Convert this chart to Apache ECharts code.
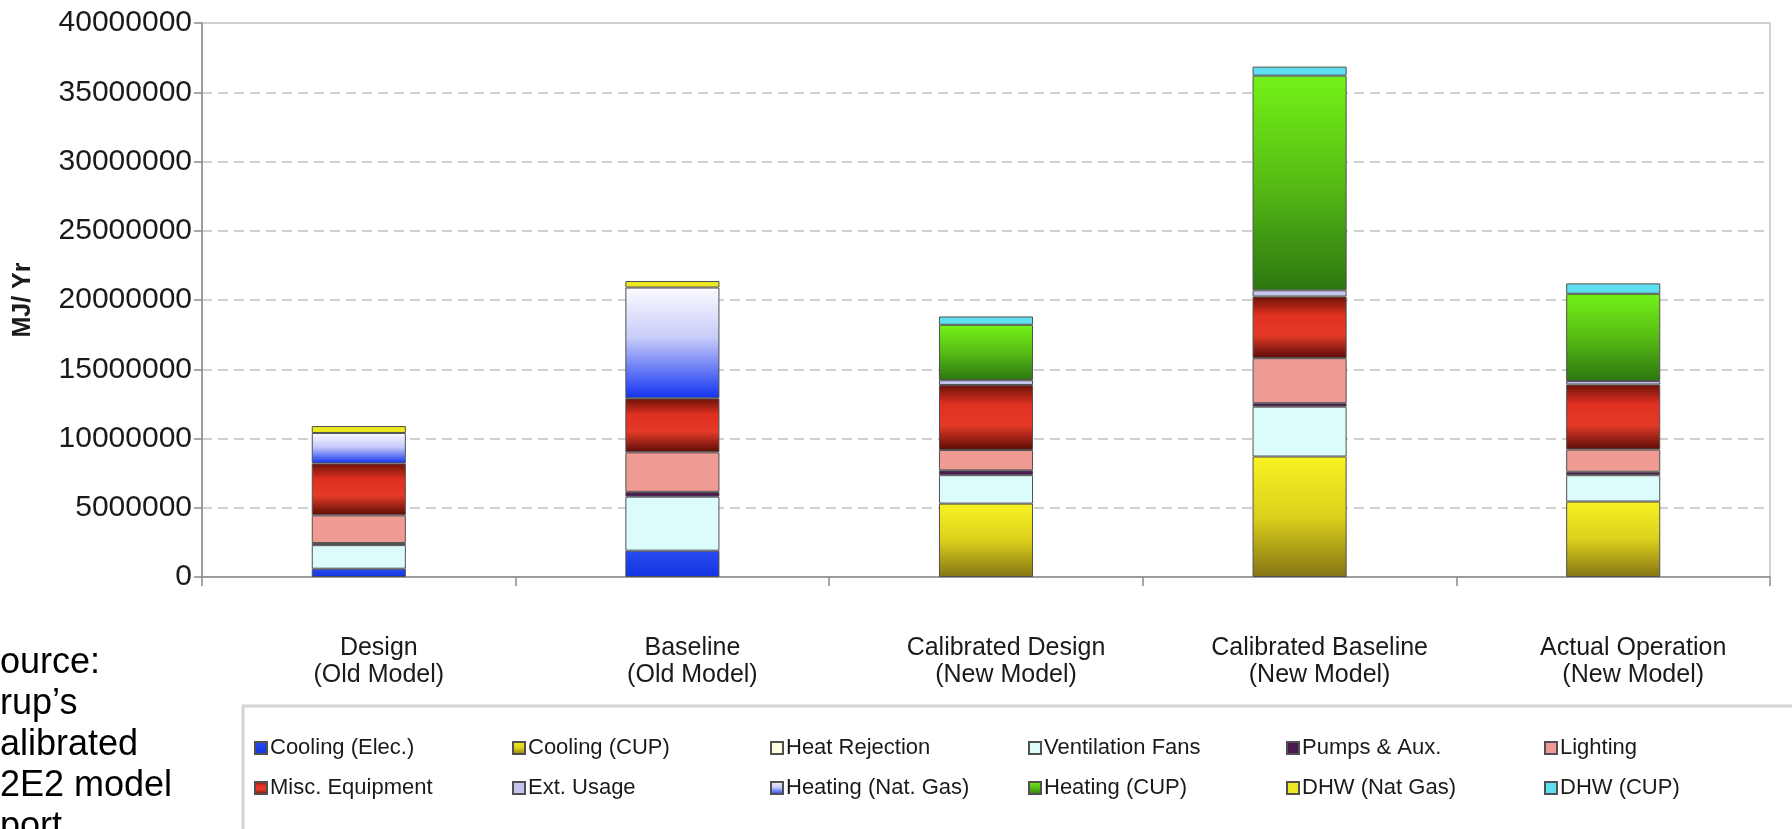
<!DOCTYPE html>
<html>
<head>
<meta charset="utf-8">
<script src="https://cdn.jsdelivr.net/npm/echarts@6/dist/echarts.min.js"></script>
<style>
html,body{margin:0;padding:0;background:#fff;}
#chart{width:1792px;height:829px;}
</style>
</head>
<body>
<div id="chart"></div>
<script>
// ---- data ----
const scenarios = ['Design', 'Baseline', 'Calibrated Design', 'Calibrated Baseline', 'Actual Operation'];
const models = ['(Old Model)', '(Old Model)', '(New Model)', '(New Model)', '(New Model)'];
const yTicks = [0, 5000000, 10000000, 15000000, 20000000, 25000000, 30000000, 35000000, 40000000];
const seriesNames = ['Cooling (Elec.)', 'Cooling (CUP)', 'Heat Rejection', 'Ventilation Fans', 'Pumps & Aux.', 'Lighting',
  'Misc. Equipment', 'Ext. Usage', 'Heating (Nat. Gas)', 'Heating (CUP)', 'DHW (Nat Gas)', 'DHW (CUP)'];
const coolingElec   = [600000, 1900000, null, null, null];
const coolingCUP    = [null, null, 5300000, 8700000, 5450000];
const heatRejection = [null, null, null, null, null];
const ventFans      = [1700000, 3900000, 2050000, 3600000, 1900000];
const pumpsAux      = [150000, 350000, 350000, 250000, 250000];
const lighting      = [2000000, 2850000, 1470000, 3250000, 1600000];
const miscEquip     = [3750000, 3900000, 4690000, 4450000, 4700000];
const extUsage      = [null, null, 350000, 450000, 250000];
const heatingNatGas = [2200000, 8000000, null, null, null];
const heatingCUP    = [null, null, 4000000, 15500000, 6300000];
const dhwNatGas     = [500000, 470000, null, null, null];
const dhwCUP        = [null, null, 600000, 650000, 750000];
const sourceLines = ['ource:', 'rup\u2019s', 'alibrated', '2E2 model', 'port'];

const seriesData = [coolingElec, coolingCUP, heatRejection, ventFans, pumpsAux, lighting,
  miscEquip, extUsage, heatingNatGas, heatingCUP, dhwNatGas, dhwCUP];

// ---- styles ----
const G = (stops) => new echarts.graphic.LinearGradient(0, 0, 0, 1, stops.map((c) => ({offset: c[0], color: c[1]})));
const fills = [
  G([[0, '#2a4cf2'], [1, '#1233e0']]),
  G([[0, '#f8f222'], [0.5, '#dcd01c'], [1, '#857414']]),
  '#ffffe0',
  '#dcfcfc',
  '#4a1a50',
  '#f09a94',
  G([[0, '#6a1208'], [0.3, '#e03020'], [0.62, '#e53a28'], [1, '#5a0c06']]),
  '#c4c4ee',
  G([[0, '#fbfbff'], [0.45, '#c8ccf8'], [1, '#1232f2']]),
  G([[0, '#74f218'], [0.5, '#56bc14'], [1, '#2c7610']]),
  '#eee820',
  '#5ee0f0'
];
const font = 'Liberation Sans';

const series = seriesNames.map((name, i) => ({
  name: name,
  type: 'bar',
  stack: 'total',
  barWidth: '30%',
  data: seriesData[i],
  itemStyle: {color: fills[i], borderColor: '#505050', borderWidth: 1},
  emphasis: {disabled: true}
}));

const chart = echarts.init(document.getElementById('chart'));
chart.setOption({
  animation: false,
  backgroundColor: '#ffffff',
  grid: {left: 202, right: 22, top: 23, bottom: 252, show: true, borderColor: '#c4c4c4', borderWidth: 1.5},
  xAxis: {
    type: 'category',
    data: scenarios.map((s, i) => s + '\n' + models[i]),
    axisLine: {lineStyle: {color: '#8c8c8c', width: 1.5}},
    axisTick: {show: true, length: 9, lineStyle: {color: '#8c8c8c', width: 1.5}},
    axisLabel: {margin: 58, color: '#1a1a1a', fontFamily: font, fontSize: 25, lineHeight: 27, interval: 0,
      padding: [0, 0, 0, 40]}
  },
  yAxis: {
    type: 'value',
    min: yTicks[0], max: yTicks[yTicks.length - 1], interval: yTicks[1] - yTicks[0],
    name: 'MJ/ Yr', nameLocation: 'middle', nameRotate: 90, nameGap: 166,
    nameTextStyle: {fontFamily: font, fontSize: 25, fontWeight: 'bold', color: '#1a1a1a'},
    axisLine: {show: true, lineStyle: {color: '#8c8c8c', width: 1.5}},
    axisTick: {show: true, length: 8, lineStyle: {color: '#8c8c8c', width: 1.5}},
    axisLabel: {margin: 10, color: '#1a1a1a', fontFamily: font, fontSize: 30, formatter: v => String(v)},
    splitLine: {show: true, lineStyle: {color: '#d0d0d0', width: 2, type: [10, 6]}}
  },
  legend: {
    data: seriesNames,
    left: 254, top: 737, width: 1550,
    orient: 'horizontal',
    padding: 0,
    itemGap: 18,
    itemWidth: 12, itemHeight: 12,
    icon: 'rect',
    selectedMode: false,
    textStyle: {fontFamily: font, fontSize: 22, color: '#1a1a1a', width: 224, lineHeight: 22, overflow: 'none',
      padding: [0, 0, 0, -2]}
  },
  graphic: [
    {type: 'rect', shape: {x: 243, y: 706, width: 1620, height: 200},
     style: {fill: 'none', stroke: '#d4d4d4', lineWidth: 3}, silent: true, z: 0},
    {type: 'text', x: 0, y: 643,
     style: {text: sourceLines.join('\n'), font: '36px "Liberation Sans"', fill: '#000', lineHeight: 41}, silent: true}
  ],
  series: series
});
</script>
</body>
</html>
